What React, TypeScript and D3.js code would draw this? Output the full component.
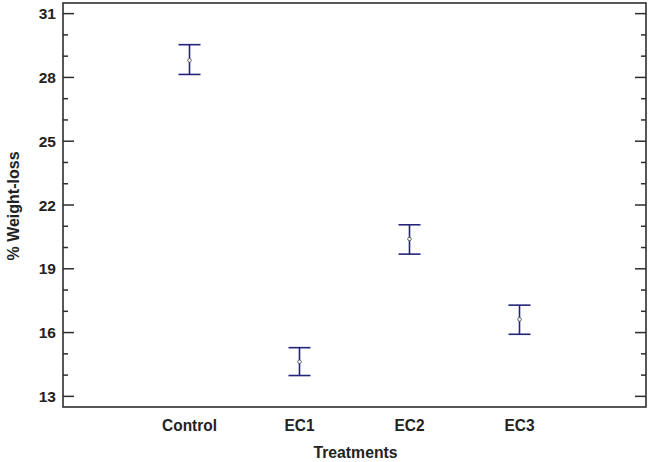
import React, { useRef, useEffect } from 'react';
import * as d3 from 'd3';

const treatments = ['Control', 'EC1', 'EC2', 'EC3'];
const means = [28.8, 14.63, 20.4, 16.62];
const lowerLimits = [28.14, 13.98, 19.69, 15.92];
const upperLimits = [29.54, 15.29, 21.07, 17.29];
const majorTicks = [13, 16, 19, 22, 25, 28, 31];
const minorTicks = d3.range(13, 32);

const W = 650;
const H = 462;

const App: React.FC = () => {
  const svgRef = useRef<SVGSVGElement | null>(null);

  useEffect(() => {
    const svg = d3.select(svgRef.current);
    svg.selectAll('*').remove();

    const left = 63;
    const right = 646;
    const top = 3;
    const bottom = 407;
    const font = "'Liberation Sans', Arial, sans-serif";
    const axisColor = '#2e2e2e';
    const barColor = '#23237a';

    const x = d3.scalePoint<string>().domain(treatments).range([left, right]).padding(1.15);
    const y = d3.scaleLinear().domain([12.5, 31.5]).range([bottom, top]);

    svg.append('rect').attr('width', W).attr('height', H).attr('fill', '#fff');

    // minor + major ticks, both sides, pointing inward
    const ticks = svg.append('g').attr('stroke', axisColor).attr('stroke-width', 1.5);
    minorTicks.forEach(v => {
      const len = majorTicks.includes(v) ? 11 : 5;
      ticks.append('line').attr('x1', left).attr('x2', left + len).attr('y1', y(v)).attr('y2', y(v));
      ticks.append('line').attr('x1', right).attr('x2', right - len).attr('y1', y(v)).attr('y2', y(v));
    });

    // frame
    svg.append('rect')
      .attr('x', left).attr('y', top)
      .attr('width', right - left).attr('height', bottom - top)
      .attr('fill', 'none').attr('stroke', axisColor).attr('stroke-width', 1.6);

    // y tick labels
    svg.append('g').selectAll('text').data(majorTicks).enter().append('text')
      .attr('x', left - 7).attr('y', d => y(d)).attr('dy', '0.36em')
      .attr('text-anchor', 'end').attr('font-family', font).attr('font-weight', 'bold')
      .attr('font-size', 15.5).attr('fill', '#222').text(d => d);

    // category labels (slightly condensed, like the original)
    svg.append('g').selectAll('text').data(treatments).enter().append('text')
      .attr('transform', d => `translate(${x(d)},431) scale(0.93,1)`)
      .attr('text-anchor', 'middle').attr('font-family', font).attr('font-weight', 'bold')
      .attr('font-size', 16.6).attr('fill', '#222').text(d => d);

    // axis titles
    svg.append('text')
      .attr('transform', `translate(${(left + right) / 2 + 1},458) scale(0.95,1)`)
      .attr('text-anchor', 'middle').attr('font-family', font).attr('font-weight', 'bold')
      .attr('font-size', 16.6).attr('fill', '#222').text('Treatments');

    svg.append('text')
      .attr('transform', `translate(19,${(top + bottom) / 2 + 1}) rotate(-90)`)
      .attr('text-anchor', 'middle').attr('font-family', font).attr('font-weight', 'bold')
      .attr('font-size', 16).attr('fill', '#222').text('% Weight-loss');

    // error bars
    const cap = 11;
    const bars = svg.append('g').attr('stroke', barColor).attr('stroke-width', 1.6).attr('fill', 'none');
    treatments.forEach((t, i) => {
      const cx = x(t)!;
      bars.append('line').attr('x1', cx).attr('x2', cx).attr('y1', y(upperLimits[i])).attr('y2', y(lowerLimits[i]));
      bars.append('line').attr('x1', cx - cap).attr('x2', cx + cap).attr('y1', y(upperLimits[i])).attr('y2', y(upperLimits[i]));
      bars.append('line').attr('x1', cx - cap).attr('x2', cx + cap).attr('y1', y(lowerLimits[i])).attr('y2', y(lowerLimits[i]));
    });

    // means
    svg.append('g').selectAll('circle').data(means).enter().append('circle')
      .attr('cx', (_, i) => x(treatments[i])!).attr('cy', d => y(d)).attr('r', 1.8)
      .attr('fill', '#fff').attr('stroke', '#555').attr('stroke-width', 0.9);
  }, []);

  return (
    <svg
      ref={svgRef}
      width={W}
      height={H}
      style={{ position: 'absolute', left: 0, top: 0, display: 'block' }}
    />
  );
};

export default App;
